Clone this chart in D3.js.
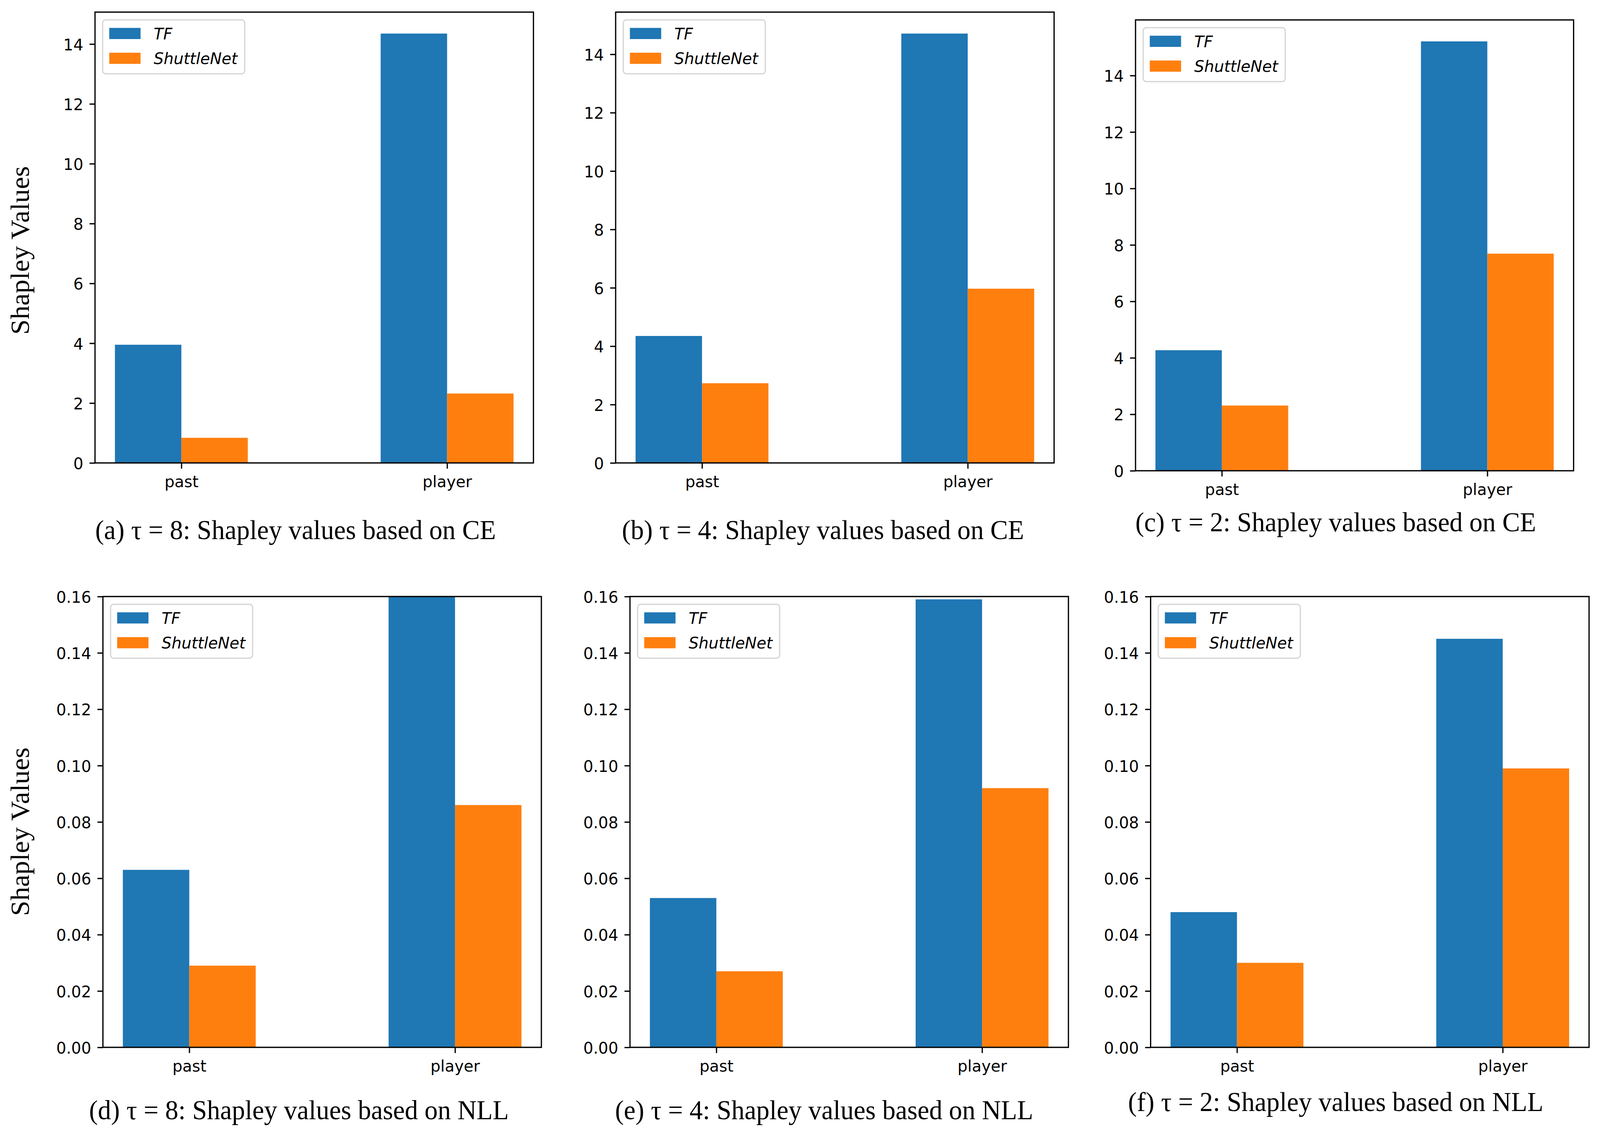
<!DOCTYPE html>
<html>
<head>
<meta charset="utf-8">
<script src="https://cdn.jsdelivr.net/npm/d3@7"></script>
<style>
  html, body { margin: 0; padding: 0; background: #fff; overflow: hidden; }
  svg { display: block; width: 100vw; height: 100vh; }
</style>
</head>
<body>
<div id="chart"></div>
<script>
// categories and series
const categories = ["past", "player"];
const seriesNames = ["TF", "ShuttleNet"];
const seriesColors = ["#1f77b4", "#ff7f0e"];

// tick labels
const ceTicks = [0, 2, 4, 6, 8, 10, 12, 14];
const nllTicks = [0, 0.02, 0.04, 0.06, 0.08, 0.10, 0.12, 0.14, 0.16];

// values (one array per series per panel)
const tfCE8 = [3.95, 14.35];
const shuttleCE8 = [0.84, 2.32];
const tfCE4 = [4.35, 14.71];
const shuttleCE4 = [2.73, 5.97];
const tfCE2 = [4.27, 15.21];
const shuttleCE2 = [2.31, 7.69];
const tfNLL8 = [0.063, 0.16];
const shuttleNLL8 = [0.029, 0.086];
const tfNLL4 = [0.053, 0.159];
const shuttleNLL4 = [0.027, 0.092];
const tfNLL2 = [0.048, 0.145];
const shuttleNLL2 = [0.030, 0.099];

const captions = [
    "(a) τ = 8: Shapley values based on CE",
    "(b) τ = 4: Shapley values based on CE",
    "(c) τ = 2: Shapley values based on CE",
    "(d) τ = 8: Shapley values based on NLL",
    "(e) τ = 4: Shapley values based on NLL",
    "(f) τ = 2: Shapley values based on NLL"
];
const yLabel = "Shapley Values";

const width = 4244;
const height = 2890;

// sizes in px (matplotlib 10pt at 300 dpi)
const tickFont = 41.7;
const tickLen = 14.6;
const lineW = 3.3;

// the drawing is in 4244x2890 units and is fitted to the window
const svg = d3.select("#chart")
    .append("svg")
    .attr("viewBox", `0 0 ${width} ${height}`)
    .attr("preserveAspectRatio", "none");

svg.append("rect").attr("width", width).attr("height", height).attr("fill", "#fff");

// panel layout (axes box and caption placement)
const panels = [
    {tf: tfCE8, sn: shuttleCE8, ticks: ceTicks, fmt: d3.format("d"), left: 252, right: 1415, top: 31, bottom: 1185, capX: 784, capY: 1380},
    {tf: tfCE4, sn: shuttleCE4, ticks: ceTicks, fmt: d3.format("d"), left: 1633, right: 2796, top: 31, bottom: 1185, capX: 2183, capY: 1380},
    {tf: tfCE2, sn: shuttleCE2, ticks: ceTicks, fmt: d3.format("d"), left: 3012, right: 4174, top: 51, bottom: 1205, capX: 3543, capY: 1360},
    {tf: tfNLL8, sn: shuttleNLL8, ticks: nllTicks, fmt: d3.format(".2f"), yMax: 0.16, left: 273, right: 1436, top: 1527, bottom: 2681, capX: 793, capY: 2865},
    {tf: tfNLL4, sn: shuttleNLL4, ticks: nllTicks, fmt: d3.format(".2f"), yMax: 0.16, left: 1671, right: 2834, top: 1527, bottom: 2681, capX: 2186, capY: 2865},
    {tf: tfNLL2, sn: shuttleNLL2, ticks: nllTicks, fmt: d3.format(".2f"), yMax: 0.16, left: 3052, right: 4215, top: 1527, bottom: 2681, capX: 3543, capY: 2844}
];

const barWidth = 0.25;

panels.forEach((p, pi) => {
    const g = svg.append("g");
    const yMax = p.yMax || d3.max(p.tf.concat(p.sn)) * 1.05;

    const x = d3.scaleLinear().domain([-0.325, 1.325]).range([p.left, p.right]);
    const y = d3.scaleLinear().domain([0, yMax]).range([p.bottom, p.top]);

    const clipId = "clip" + pi;
    g.append("clipPath").attr("id", clipId)
        .append("rect")
        .attr("x", p.left).attr("y", p.top)
        .attr("width", p.right - p.left).attr("height", p.bottom - p.top);

    // bars
    const series = [p.tf, p.sn];
    const bars = g.append("g").attr("clip-path", `url(#${clipId})`);
    series.forEach((vals, si) => {
        bars.selectAll(null)
            .data(vals)
            .enter().append("rect")
            .attr("x", (d, i) => x(i + (si === 0 ? -barWidth : 0)))
            .attr("width", (d, i) => x(i + barWidth) - x(i))
            .attr("y", d => y(d))
            .attr("height", d => y(0) - y(d))
            .attr("fill", seriesColors[si]);
    });

    // y axis
    const yAxis = g.append("g")
        .attr("transform", `translate(${p.left},0)`)
        .call(d3.axisLeft(y).tickValues(p.ticks).tickFormat(p.fmt)
            .tickSize(tickLen).tickPadding(16.4));
    yAxis.select(".domain").remove();
    yAxis.selectAll(".tick line").attr("stroke", "#000").attr("stroke-width", lineW);
    yAxis.selectAll(".tick text")
        .attr("dy", "0.37em")
        .attr("fill", "#000")
        .style("font-family", "'DejaVu Sans'")
        .style("font-size", tickFont + "px");

    // x axis
    const xAxis = g.append("g")
        .attr("transform", `translate(0,${p.bottom})`)
        .call(d3.axisBottom(x).tickValues([0, 1]).tickFormat(i => categories[i])
            .tickSize(tickLen).tickPadding(17.8));
    xAxis.select(".domain").remove();
    xAxis.selectAll(".tick line").attr("stroke", "#000").attr("stroke-width", lineW);
    xAxis.selectAll(".tick text")
        .attr("fill", "#000")
        .style("font-family", "'DejaVu Sans'")
        .style("font-size", tickFont + "px");

    // axes frame
    g.append("rect")
        .attr("x", p.left).attr("y", p.top)
        .attr("width", p.right - p.left).attr("height", p.bottom - p.top)
        .attr("fill", "none")
        .attr("stroke", "#000")
        .attr("stroke-width", lineW);

    // legend
    const lx = p.left + 20.3;
    const ly = p.top + 19.8;
    const legend = g.append("g").attr("transform", `translate(${lx},${ly})`);
    const frame = legend.append("rect")
        .attr("width", 375).attr("height", 138)
        .attr("rx", 8).attr("ry", 8)
        .attr("fill", "#fff").attr("fill-opacity", 0.8)
        .attr("stroke", "#d6d6d6").attr("stroke-width", lineW);
    let maxText = 0;
    seriesNames.forEach((name, si) => {
        legend.append("rect")
            .attr("x", 17.5).attr("y", 20.6 + si * 63.5)
            .attr("width", 83).attr("height", 28.6)
            .attr("fill", seriesColors[si]);
        const t = legend.append("text")
            .attr("x", 135.3).attr("y", 49.8 + si * 63.5)
            .style("font-family", "'DejaVu Sans'")
            .style("font-style", "italic")
            .style("font-size", tickFont + "px")
            .attr("fill", "#000")
            .text(name);
        maxText = Math.max(maxText, t.node().getComputedTextLength());
    });
    frame.attr("width", 135.3 + maxText + 19);

    // caption
    svg.append("text")
        .attr("x", p.capX).attr("y", p.capY)
        .attr("text-anchor", "middle")
        .style("font-family", "'Liberation Serif', 'Times New Roman', serif")
        .style("font-size", "70px")
        .attr("fill", "#000")
        .text(captions[pi]);
});

// row y labels
[641, 2129].forEach(cy => {
    svg.append("text")
        .attr("transform", `translate(52,${cy}) rotate(-90)`)
        .attr("text-anchor", "middle")
        .attr("dy", "0.35em")
        .style("font-family", "'Liberation Serif', 'Times New Roman', serif")
        .style("font-size", "70.5px")
        .attr("fill", "#000")
        .text(yLabel);
});
</script>
</body>
</html>
